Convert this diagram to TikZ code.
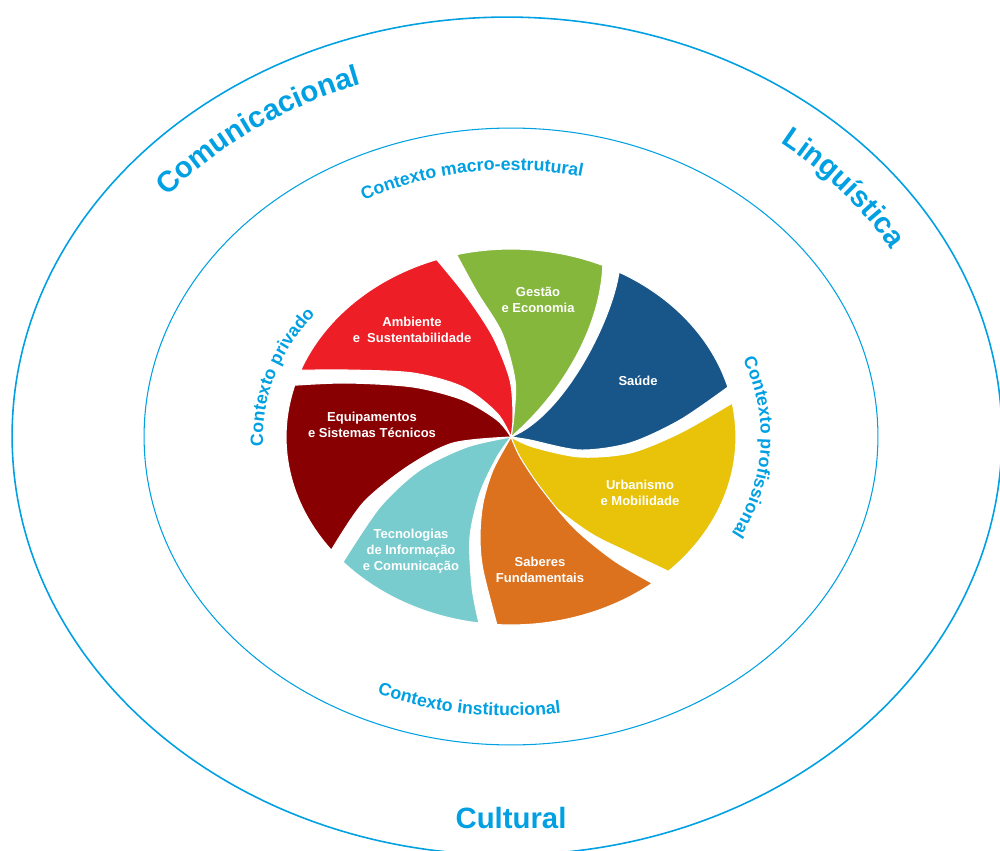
\documentclass[tikz,border=0pt]{standalone}
\usepackage{fontspec}
\setmainfont{Liberation Sans}
\usetikzlibrary{decorations.text}
\definecolor{cyanc}{RGB}{0,160,227}
\definecolor{gGreen}{RGB}{132,183,60}
\definecolor{gBlue}{RGB}{24,86,137}
\definecolor{gYellow}{RGB}{232,195,10}
\definecolor{gOrange}{RGB}{220,114,30}
\definecolor{gTeal}{RGB}{121,204,206}
\definecolor{gDark}{RGB}{137,0,3}
\definecolor{gRed}{RGB}{237,30,38}
\newcommand\myOuterFont{\bfseries\fontsize{16.7}{20}\selectfont}
\newcommand\myCtxFont{\bfseries\fontsize{10.1}{12}\selectfont}
\begin{document}
\begin{tikzpicture}[x=0.02cm,y=0.02cm,
  petal/.style={draw=white, line width=0.6pt, line join=round},
  plabel/.style={text=white, font=\bfseries\fontsize{7.4}{9.1}\selectfont, align=center, inner sep=0pt},
  ring/.style={draw=cyanc},
  ctxtext/.style={decorate, decoration={text along path, text align=center, text color=cyanc}},
]
\useasboundingbox (0,0) rectangle (1000,850);
\clip (0,0) rectangle (1000,850);
\coordinate (O) at (507,414);
\coordinate (C) at (511,413);
\coordinate (I) at (511,413.5);
% rings
\draw[ring, line width=0.9pt] (O) ellipse[x radius=9.9cm, y radius=8.38cm];
\draw[ring, line width=0.6pt] (I) ellipse[x radius=7.34cm, y radius=6.17cm];
% tips of petals
\foreach \n/\a in {g1/65.9, g2/104, b1/15.4, b2/61.3, y1/-45.6, y2/10.4, o1/-93.6, o2/-51.1, t1/-138.3, t2/-98.2, d1/164, d2/217, r1/109.3, r2/159.2}
  \path (C) ++(\a:4.5cm and 3.76cm) coordinate (\n);
% petals
\path[fill=gGreen, petal] (C) .. controls (560,455) and (600,520) .. (g1)
  arc[start angle=65.9, end angle=104, x radius=4.5cm, y radius=3.76cm]
  -- plot[smooth] coordinates {(g2) (477,558) (502,517) (515,470) (514,435) (C)} -- cycle;
\path[fill=gBlue, petal] (C) -- plot[smooth] coordinates {(C) (530,410) (580,400) (630,407) (680,430) (b1)}
  arc[start angle=15.4, end angle=61.3, x radius=4.5cm, y radius=3.76cm]
  .. controls (612,530) and (565,435) .. (C) -- cycle;
\path[fill=gYellow, petal] (C) -- plot[smooth] coordinates {(C) (523,383) (547,350) (590,317) (630,297) (y1)}
  arc[start angle=-45.6, end angle=10.4, x radius=4.5cm, y radius=3.76cm]
  -- plot[smooth] coordinates {(y2) (680,417) (630,397) (580,393) (533,403) (C)} -- cycle;
\path[fill=gOrange, petal] (C) -- plot[smooth] coordinates {(C) (493,380) (483,347) (480,313) (483,280) (o1)}
  arc[start angle=-93.6, end angle=-51.1, x radius=4.5cm, y radius=3.76cm]
  -- plot[smooth] coordinates {(o2) (613,290) (573,323) (540,363) (520,393) (C)} -- cycle;
\path[fill=gTeal, petal] (C) -- plot[smooth] coordinates {(C) (467,403) (420,380) (380,343) (t1)}
  arc[start angle=-138.3, end angle=-98.2, x radius=4.5cm, y radius=3.76cm]
  -- plot[smooth] coordinates {(t2) (472,263) (470,313) (480,357) (497,393) (C)} -- cycle;
\path[fill=gDark, petal] (C) -- plot[smooth] coordinates {(C) (497,430) (463,450) (413,463) (347,467) (d1)}
  arc[start angle=164, end angle=217, x radius=4.5cm, y radius=3.76cm]
  -- plot[smooth] coordinates {(d2) (363,347) (407,383) (453,407) (C)} -- cycle;
\path[fill=gRed, petal] (C) -- plot[smooth] coordinates {(C) (513,433) (510,470) (493,513) (467,553) (r1)}
  arc[start angle=109.3, end angle=159.2, x radius=4.5cm, y radius=3.76cm]
  -- plot[smooth] coordinates {(r2) (347,480) (413,477) (463,463) (497,437) (C)} -- cycle;
% petal labels
\node[plabel] (lgest) at (538,550) {Gestão\\e Economia};
\node[plabel] (lamb) at (412,520) {Ambiente\\e\ \ Sustentabilidade};
\node[plabel] (lsau) at (638,469) {Saúde};
\node[plabel] (lequ) at (372,425) {Equipamentos\\e Sistemas Técnicos};
\node[plabel] (lurb) at (640,357) {Urbanismo\\e Mobilidade};
\node[plabel] (ltec) at (411,299) {Tecnologias\\de Informação\\e Comunicação};
\node[plabel] (lsab) at (540,280) {Saberes\\Fundamentais};
% outer curved labels
\path (O) ++(150:8.88cm and 7.44cm) coordinate (cs1);
\path[ctxtext, decoration={text={|\myOuterFont|Comunicacional}}]
  (cs1) arc[start angle=150, end angle=100, x radius=8.88cm, y radius=7.44cm];
\path (O) ++(62:8.88cm and 7.44cm) coordinate (cs2);
\path[ctxtext, decoration={text={|\myOuterFont|Linguística}}]
  (cs2) arc[start angle=62, end angle=19, x radius=8.88cm, y radius=7.44cm];
\node[text=cyanc, font=\myOuterFont, anchor=base, inner sep=0pt] (cult) at (511,22) {Cultural};
% context labels
\path (C) ++(128:6.34cm and 5.34cm) coordinate (cs3);
\path[ctxtext, decoration={text={|\myCtxFont|Contexto macro-estrutural}}]
  (cs3) arc[start angle=128, end angle=67, x radius=6.34cm, y radius=5.34cm];
\path (C) ++(235:6.84cm and 5.58cm) coordinate (cs4);
\path[ctxtext, decoration={text={|\myCtxFont|Contexto institucional}}]
  (cs4) arc[start angle=235, end angle=290, x radius=6.84cm, y radius=5.58cm];
\path (C) ++(195:4.96cm and 4.0cm) coordinate (cs5);
\path[ctxtext, decoration={text={|\myCtxFont|Contexto privado}}]
  (cs5) arc[start angle=195, end angle=131, x radius=4.96cm, y radius=4.0cm];
\path (C) ++(27:5.0cm and 4.1cm) coordinate (cs6);
\path[ctxtext, decoration={text={|\myCtxFont|Contexto profissional}}]
  (cs6) arc[start angle=27, end angle=-33, x radius=5.0cm, y radius=4.1cm];
\end{tikzpicture}
\end{document}
